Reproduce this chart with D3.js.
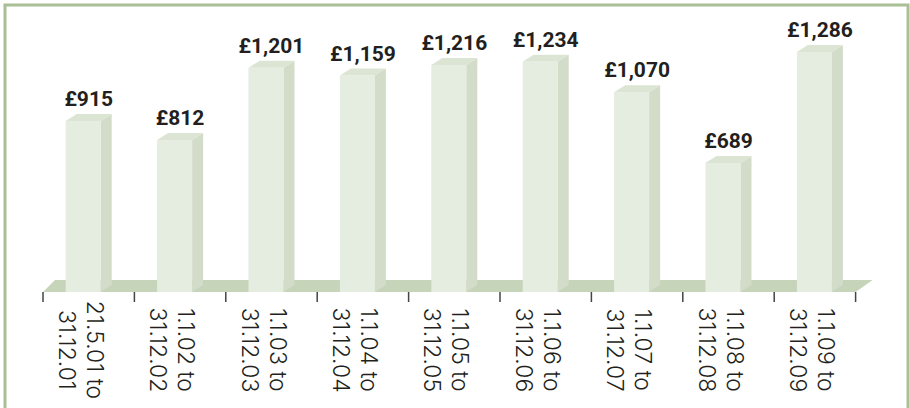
<!DOCTYPE html>
<html>
<head>
<meta charset="utf-8">
<script src="https://cdn.jsdelivr.net/npm/d3@7"></script>
<style>
  body { margin: 0; background: #fff; }
  svg { display: block; }
</style>
</head>
<body>
<svg id="chart" width="910" height="408"></svg>
<script>
// data
var periods = ["21.5.01 to|31.12.01", "1.1.02 to|31.12.02", "1.1.03 to|31.12.03",
	"1.1.04 to|31.12.04", "1.1.05 to|31.12.05", "1.1.06 to|31.12.06",
	"1.1.07 to|31.12.07", "1.1.08 to|31.12.08", "1.1.09 to|31.12.09"];
var amounts = [915, 812, 1201, 1159, 1216, 1234, 1070, 689, 1286];
var labels = ["£915", "£812", "£1,201", "£1,159", "£1,216", "£1,234", "£1,070", "£689", "£1,286"];

var svg = d3.select("#chart"),
	margin = {top: 52, left: 43, bottom: 118, right: 44.4},
	width = +svg.attr("width"),
	height = +svg.attr("height");

var depthX = 11, depthY = 7, floorY = 292;

// frame
svg.append("rect")
	.attr("x", 5).attr("y", 5)
	.attr("width", width - 7).attr("height", height + 20)
	.attr("fill", "none")
	.attr("stroke", "#aabf96")
	.attr("stroke-width", 3);

var x = d3.scaleBand()
	.domain(periods)
	.range([margin.left, width - margin.right])
	.paddingInner(0)
	.paddingOuter(0);

var y = d3.scaleLinear()
	.domain([0, d3.max(amounts)])
	.range([floorY - 1, margin.top]);

var frontW = x.bandwidth() * 0.383;
var off = (x.bandwidth() - frontW - depthX) / 2;

// floor
var fx0 = x.range()[0], fx1 = x.range()[1] - 10;
svg.append("path")
	.attr("fill", "#c6d4b9")
	.attr("d", `M${fx0},${floorY} L${fx0 + 12},${floorY - 12} L${fx1 + 17},${floorY - 12} L${fx1},${floorY} Z`);

var data = periods.map((p, i) => ({period: p, value: amounts[i], label: labels[i]}));

var bars = svg.selectAll(".bar")
	.data(data)
	.enter().append("g")
	.attr("class", "bar");

// side face
bars.append("path")
	.attr("fill", "#d3dcc9")
	.attr("d", d => {
		var xr = x(d.period) + off + frontW, yt = y(d.value);
		return `M${xr},${yt} L${xr + depthX},${yt - depthY} L${xr + depthX},${floorY - depthY} L${xr},${floorY} Z`;
	});

// top face
bars.append("path")
	.attr("fill", "#dce5d4")
	.attr("d", d => {
		var xl = x(d.period) + off, yt = y(d.value);
		return `M${xl},${yt} L${xl + depthX},${yt - depthY} L${xl + frontW + depthX},${yt - depthY} L${xl + frontW},${yt} Z`;
	});

// front face
bars.append("rect")
	.attr("fill", "#e5ece0")
	.attr("x", d => x(d.period) + off)
	.attr("y", d => y(d.value))
	.attr("width", frontW)
	.attr("height", d => floorY - y(d.value));

// value labels
svg.selectAll(".labels")
	.data(data)
	.enter().append("text")
	.attr("class", "labels")
	.attr("x", d => x(d.period) + off + (frontW + depthX) / 2)
	.attr("y", d => y(d.value) - depthY - 8)
	.attr("text-anchor", "middle")
	.style("font-family", "Roboto, sans-serif")
	.style("font-weight", "700")
	.style("font-size", "21px")
	.style("fill", "#231f20")
	.text(d => d.label);

// ticks at band edges
var tickXs = periods.map(p => x(p)).concat([fx1]);
svg.selectAll(".tick-line")
	.data(tickXs)
	.enter().append("line")
	.attr("class", "tick-line")
	.attr("x1", d => d).attr("x2", d => d)
	.attr("y1", floorY).attr("y2", floorY + 10)
	.attr("stroke", "#444")
	.attr("stroke-width", 1.5);

// category labels, rotated
var cat = svg.selectAll(".cat")
	.data(periods)
	.enter().append("text")
	.attr("class", "cat")
	.attr("transform", d => `translate(${x(d) + x.bandwidth() / 2},350) rotate(90)`)
	.attr("text-anchor", "middle")
	.style("font-family", "Inter, sans-serif")
	.style("font-weight", "300")
	.style("font-size", "23px")
	.style("fill", "#231f20");

cat.selectAll("tspan")
	.data(d => d.split("|").map((t, i) => ({t: t, i: i})))
	.enter().append("tspan")
	.attr("x", 0)
	.attr("y", d => d.i === 0 ? 2 : 30)
	.text(d => d.t);
</script>
</body>
</html>
